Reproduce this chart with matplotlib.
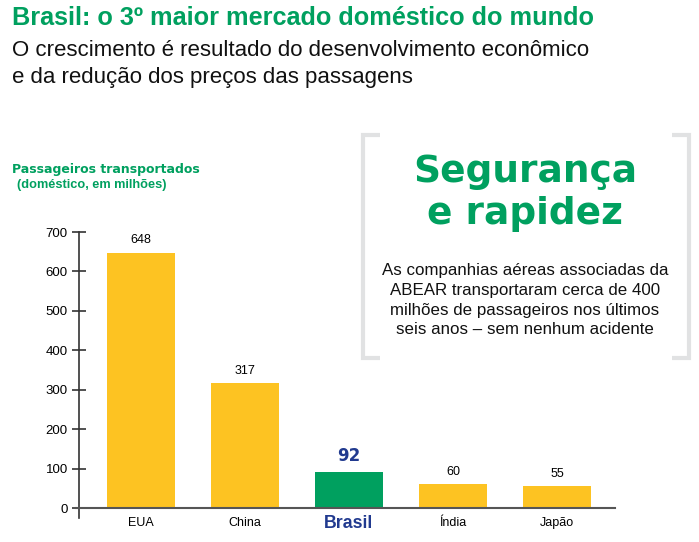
import matplotlib
matplotlib.use("Agg")
import matplotlib.pyplot as plt
from matplotlib.lines import Line2D

categories = ["EUA", "China", "Brasil", "Índia", "Japão"]
values = [648, 317, 92, 60, 55]
yticks = [0, 100, 200, 300, 400, 500, 600, 700]

YELLOW = "#FDC322"
GREEN = "#00A05F"
BLUE = "#213A8F"
GRAY = "#E1E2E3"

SANS = ["Liberation Sans", "DejaVu Sans"]
HEAVY = ["DejaVu Sans"]

fig = plt.figure(figsize=(6.99, 5.42), dpi=100)
W, H = 699, 542

def fx(px):
    return px / W

def fy(py):
    return 1 - py / H

ax = fig.add_axes([fx(79), fy(518), fx(615) - fx(79), fy(232) - fy(518)])
colors = [GREEN if c == "Brasil" else YELLOW for c in categories]
x = list(range(len(categories)))
ax.bar(x, values, width=0.65, color=colors, zorder=2)
ax.set_xlim(-0.596, 4.558)
ax.set_ylim(-25, 700)
for s in ["top", "right", "bottom"]:
    ax.spines[s].set_visible(False)
ax.spines["left"].set_color("#333333")
ax.spines["left"].set_linewidth(1.2)
ax.set_yticks(yticks)
ax.set_yticklabels([str(t) for t in yticks], family=SANS, fontsize=9.5)
ax.tick_params(axis="y", direction="inout", length=10, width=1.2, color="#333333", pad=3)
ax.set_xticks([])
ax.axhline(0, xmin=-0.006, xmax=1, color="#555555", lw=1.5, clip_on=False, zorder=3)

for xi, v, c in zip(x, values, categories):
    if c == "Brasil":
        ax.text(xi, v + 18, str(v), ha="center", va="bottom", fontsize=12,
                fontweight="bold", color=BLUE, family=HEAVY)
        ax.text(xi, -38, c, ha="center", va="center", fontsize=12.8,
                fontweight="bold", color=BLUE, family=SANS)
    else:
        ax.text(xi, v + 16, str(v), ha="center", va="bottom", fontsize=9,
                color="black", family=SANS)
        ax.text(xi, -38, c, ha="center", va="center", fontsize=9,
                color="black", family=SANS)

# Headings
fig.text(fx(12), fy(18), "Brasil: o 3º maior mercado doméstico do mundo", ha="left", va="center",
         fontsize=18.2, fontweight="bold", color=GREEN, family=SANS)
fig.text(fx(12), fy(50), "O crescimento é resultado do desenvolvimento econômico", ha="left", va="center",
         fontsize=16, color="#111111", family=SANS)
fig.text(fx(12), fy(78), "e da redução dos preços das passagens", ha="left", va="center",
         fontsize=16, color="#111111", family=SANS)

fig.text(fx(12), fy(169), "Passageiros transportados", ha="left", va="center",
         fontsize=9, fontweight="bold", color=GREEN, family=HEAVY)
fig.text(fx(17), fy(185), "(doméstico, em milhões)", ha="left", va="center",
         fontsize=9.2, fontweight="bold", color=GREEN, family=SANS)

# Bracket box
lw = 3
for pts in [
    ([fx(380), fx(363), fx(363), fx(380)], [fy(135), fy(135), fy(358), fy(358)]),
    ([fx(672), fx(689), fx(689), fx(672)], [fy(135), fy(135), fy(358), fy(358)]),
]:
    fig.add_artist(Line2D(pts[0], pts[1], color=GRAY, lw=lw, transform=fig.transFigure,
                          solid_joinstyle="miter", solid_capstyle="butt"))

fig.text(fx(525), fy(172), "Segurança", ha="center", va="center", fontsize=27,
         fontweight="bold", color=GREEN, family=HEAVY)
fig.text(fx(525), fy(214), "e rapidez", ha="center", va="center", fontsize=27,
         fontweight="bold", color=GREEN, family=HEAVY)
body = ["As companhias aéreas associadas da",
        "ABEAR transportaram cerca de 400",
        "milhões de passageiros nos últimos",
        "seis anos – sem nenhum acidente"]
for i, line in enumerate(body):
    fig.text(fx(525), fy(270 + 20 * i), line, ha="center", va="center", fontsize=12.2,
             color="#111111", family=SANS)

fig.savefig("out.png", dpi=100)
